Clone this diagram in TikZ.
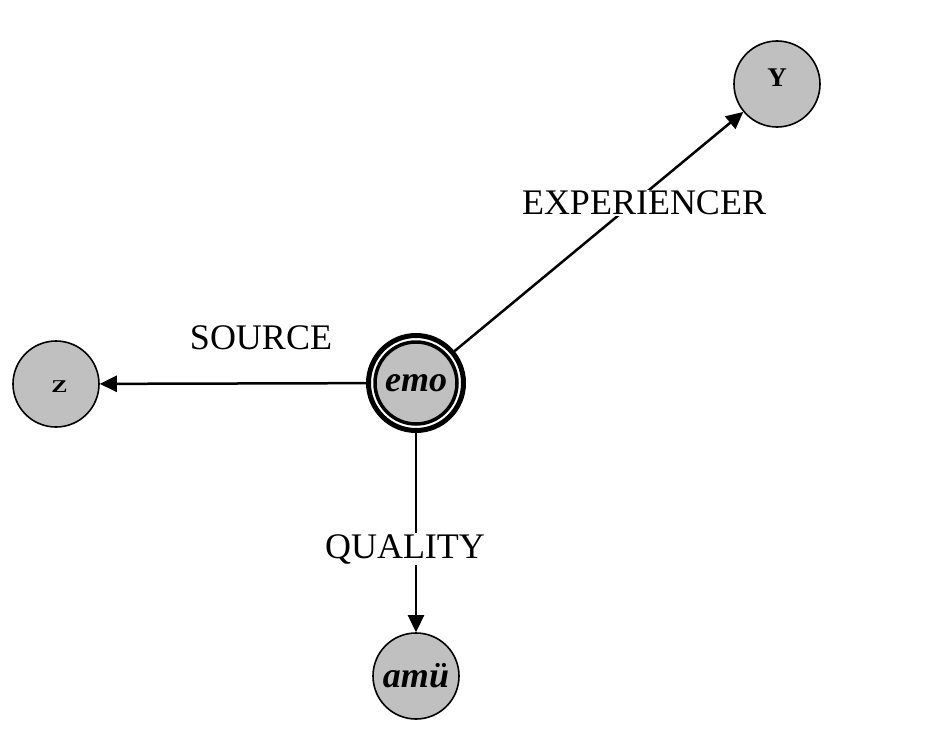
\documentclass[tikz,border=0pt]{standalone}
\usepackage{fontspec}
\setmainfont{Liberation Serif}
\usetikzlibrary{arrows.meta}
\definecolor{nodegray}{RGB}{192,192,192}
\begin{document}
\begin{tikzpicture}[x=1pt,y=1pt,
  leaf/.style={circle,draw,fill=nodegray,line width=1.6pt,minimum size=86pt,inner sep=0pt},
  edgelabel/.style={fill=white,inner sep=1pt,font=\fontsize{36}{40}\selectfont},
  conn/.style={line width=2.5pt,-{Triangle[length=17pt,width=16pt]}}
]
\useasboundingbox (0,0) rectangle (925,-733);
\node[circle,draw,fill=white,line width=5pt,minimum size=95pt,inner sep=0pt] (emo) at (416,-383) {};
\node[circle,draw,fill=nodegray,line width=3.5pt,minimum size=82pt,inner sep=0pt] (emoin) at (416,-383) {\fontsize{36}{40}\selectfont\bfseries\itshape emo};
\node[leaf,text depth=12pt] (Y) at (777,-84) {\fontsize{27}{30}\selectfont\bfseries Y};
\node[leaf,text height=17pt] (Z) at (56,-384) {\hspace*{7pt}\fontsize{18}{22}\selectfont\bfseries\scalebox{1.35}[1]{Z}};
\node[leaf] (amu) at (416,-676) {\fontsize{36}{40}\selectfont\bfseries\itshape amü};
\draw[conn] (emo) -- (Y);
\draw[conn] (emo) -- (Z);
\draw[conn] (emo) -- (amu);
\node[edgelabel] (lexp) at (644,-203) {EXPERIENCER};
\node[edgelabel] (lsrc) at (261,-338) {SOURCE};
\node[edgelabel] (lqual) at (405,-549) {QUALITY};
\end{tikzpicture}
\end{document}
